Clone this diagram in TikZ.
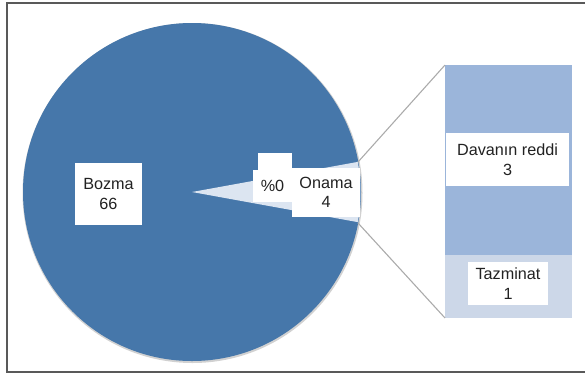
\documentclass[tikz,border=0pt]{standalone}
\usepackage{fontspec}
\setmainfont{Liberation Sans}
\definecolor{pieblue}{HTML}{4677AA}
\definecolor{wedgec}{HTML}{DCE5F1}
\definecolor{bardark}{HTML}{9BB5DA}
\definecolor{barlight}{HTML}{CCD7E8}
\definecolor{conn}{HTML}{ABABAB}
\definecolor{framec}{HTML}{595959}
\definecolor{txt}{HTML}{222222}
\tikzset{
  lbl/.style={fill=white, inner sep=0pt, align=center, text=txt,
    font=\fontsize{16.2}{19.5}\selectfont},
  connline/.style={draw=conn, line width=1.1pt},
}
\begin{document}
\begin{tikzpicture}[x=1pt,y=-1pt]
\useasboundingbox (0,0) rectangle (585,376);
% frame
\draw[framec, line width=1.6pt] (592,3) -- (7,3) -- (7,372) -- (592,372);
% pie
\coordinate (C) at (192,192);
\fill[black!18] (192.5,193) circle (170);
\fill[pieblue] (C) circle (169);
\fill[wedgec] (C) -- ++(-10.3:168.5) arc[start angle=-10.3, end angle=10.3, radius=168.5] -- cycle;
\coordinate (wtop) at (358,162);
\coordinate (wbot) at (358,223);
% bar
\fill[bardark] (445,65) rectangle (572,255);
\fill[barlight] (445,255) rectangle (572,318);
\coordinate (btop) at (445,65);
\coordinate (bbot) at (445,318);
% connectors
\draw[connline] (wtop) -- (btop);
\draw[connline] (wbot) -- (bbot);
% labels
\node[lbl, minimum width=67pt, minimum height=62pt] (bozma) at (108.5,194) {Bozma\\66};
\node[fill=white, inner sep=0pt, minimum width=34pt, minimum height=17pt] (blank) at (275,161.5) {};
\node[lbl, minimum width=39pt, minimum height=32pt] (pct) at (272.5,186) {\%0};
\node[lbl, minimum width=68pt, minimum height=49pt] (onama) at (326,192.5) {Onama\\4};
\node[lbl, minimum width=123pt, minimum height=53pt] (davanin) at (507.5,159.5) {Davanın reddi\\3};
\node[lbl, minimum width=80pt, minimum height=43pt] (tazminat) at (508,283.5) {Tazminat\\1};
\end{tikzpicture}
\end{document}
